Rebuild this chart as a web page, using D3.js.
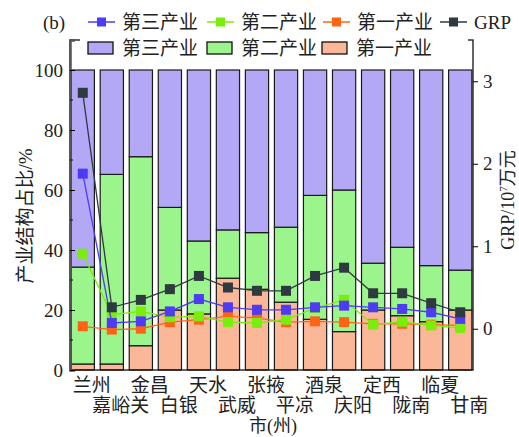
<!DOCTYPE html>
<html>
<head>
<meta charset="utf-8">
<script src="https://cdn.jsdelivr.net/npm/d3@7"></script>
<style>
  body { margin: 0; background: #fff; }
  text { font-family: "Liberation Serif", "Noto Sans CJK SC", serif; fill: #222; }
</style>
</head>
<body>
<div id="chart"></div>
<script>
// 1. DATA
const cities = ["兰州", "嘉峪关", "金昌", "白银", "天水", "武威", "张掖", "平凉", "酒泉", "庆阳", "定西", "陇南", "临夏", "甘南"];
const primaryPct   = [2, 2, 8.1, 20, 18.7, 30.6, 26.9, 22.6, 16.9, 12.8, 20, 18.1, 16.1, 20];
const secondaryPct = [32.3, 63.2, 63, 34.2, 24.3, 16.1, 18.9, 25, 41.3, 47.2, 15.6, 22.8, 18.7, 13.3];
const tertiaryPct  = primaryPct.map((p, i) => 100 - p - secondaryPct[i]);

const grpVal       = [2.86, 0.26, 0.35, 0.48, 0.64, 0.50, 0.46, 0.46, 0.64, 0.74, 0.43, 0.43, 0.31, 0.20];
const tertiaryVal  = [1.88, 0.07, 0.09, 0.21, 0.36, 0.26, 0.23, 0.23, 0.26, 0.28, 0.26, 0.24, 0.20, 0.12];
const secondaryVal = [0.91, 0.17, 0.21, 0.14, 0.15, 0.08, 0.07, 0.11, 0.25, 0.35, 0.05, 0.085, 0.04, 0.01];
const primaryVal   = [0.03, -0.01, 0.0, 0.08, 0.11, 0.15, 0.13, 0.08, 0.09, 0.08, 0.06, 0.06, 0.05, 0.04];

const leftTicks = [0, 20, 40, 60, 80, 100];
const leftMinor = [10, 30, 50, 70, 90];
const rightTicks = [0, 1, 2, 3];

// 2. SIZES
const W = 519, H = 437;
const plot = { left: 70, right: 473, top: 40, bottom: 370 };
const fontSize = 19;

const barColors = { tertiary: "#b3a8f6", secondary: "#9cf58c", primary: "#fbb898" };
const lineColors = { tertiary: "#4d3cf2", secondary: "#78ee0a", primary: "#ff6414", grp: "#2e3a40" };

const svg = d3.select("#chart")
    .append("svg")
    .attr("width", W)
    .attr("height", H);

// 3. SCALES
const x = d3.scaleBand()
    .domain(cities)
    .range([plot.left, plot.right])
    .paddingInner(0.2)
    .paddingOuter(0.04);

const yLeft = d3.scaleLinear().domain([0, 110]).range([plot.bottom, plot.top]);
const yRight = d3.scaleLinear().domain([-0.5, 3.5]).range([plot.bottom, plot.top]);

// 4. STACKED BARS
const table = cities.map((c, i) => ({
  city: c,
  primary: primaryPct[i],
  secondary: secondaryPct[i],
  tertiary: tertiaryPct[i]
}));

const stack = d3.stack().keys(["primary", "secondary", "tertiary"]);
const layers = stack(table);

svg.append("g")
    .selectAll("g")
    .data(layers)
    .enter()
    .append("g")
    .attr("fill", d => barColors[d.key])
    .selectAll("rect")
    .data(d => d)
    .enter()
    .append("rect")
    .attr("x", d => x(d.data.city))
    .attr("y", d => yLeft(d[1]))
    .attr("width", x.bandwidth())
    .attr("height", d => yLeft(d[0]) - yLeft(d[1]))
    .attr("stroke", "#1a1a1a")
    .attr("stroke-width", 1.2);

// 5. LINES
const series = [
  { key: "primary", values: primaryVal },
  { key: "secondary", values: secondaryVal },
  { key: "tertiary", values: tertiaryVal },
  { key: "grp", values: grpVal }
];

const line = d3.line()
    .x((d, i) => x(cities[i]) + x.bandwidth() / 2)
    .y(d => yRight(d));

series.forEach(s => {
  svg.append("path")
      .datum(s.values)
      .attr("fill", "none")
      .attr("stroke", lineColors[s.key])
      .attr("stroke-width", 1.3)
      .attr("d", line);

  svg.append("g")
      .selectAll("rect")
      .data(s.values)
      .enter()
      .append("rect")
      .attr("x", (d, i) => x(cities[i]) + x.bandwidth() / 2 - 5)
      .attr("y", d => yRight(d) - 5)
      .attr("width", 10)
      .attr("height", 10)
      .attr("fill", lineColors[s.key]);
});

// 6. FRAME AND AXES
svg.append("rect")
    .attr("x", plot.left)
    .attr("y", plot.top)
    .attr("width", plot.right - plot.left)
    .attr("height", plot.bottom - plot.top)
    .attr("fill", "none")
    .attr("stroke", "#111")
    .attr("stroke-width", 1.3);

// white strip hiding most of the top border
svg.append("rect")
    .attr("x", 80)
    .attr("y", plot.top - 2)
    .attr("width", 388)
    .attr("height", 5)
    .attr("fill", "#fff");

const leftAxis = svg.append("g")
    .attr("transform", `translate(${plot.left},0)`)
    .call(d3.axisLeft(yLeft).tickValues(leftTicks).tickSize(-5).tickPadding(7));
leftAxis.select(".domain").attr("stroke", "#555").attr("stroke-width", 2.5);
leftAxis.selectAll("text").style("font-size", fontSize + "px");

svg.append("g")
    .selectAll("line")
    .data(leftMinor)
    .enter()
    .append("line")
    .attr("x1", plot.left)
    .attr("x2", plot.left + 3)
    .attr("y1", d => yLeft(d))
    .attr("y2", d => yLeft(d))
    .attr("stroke", "#111");

const rightAxis = svg.append("g")
    .attr("transform", `translate(${plot.right},0)`)
    .call(d3.axisRight(yRight).tickValues(rightTicks).tickFormat(d3.format("d")).tickSize(5).tickPadding(5));
rightAxis.select(".domain").remove();
rightAxis.selectAll("text").style("font-size", fontSize + "px");

// x labels, staggered in two rows
svg.append("g")
    .selectAll("text")
    .data(cities)
    .enter()
    .append("text")
    .attr("x", d => x(d) + x.bandwidth() / 2 + 9)
    .attr("y", (d, i) => i % 2 === 0 ? 392 : 412)
    .attr("text-anchor", "middle")
    .style("font-size", fontSize + "px")
    .text(d => d);

svg.append("text")
    .attr("x", 273)
    .attr("y", 432)
    .attr("text-anchor", "middle")
    .style("font-size", "18px")
    .text("市(州)");

svg.append("text")
    .attr("transform", "rotate(-90)")
    .attr("x", -216)
    .attr("y", 32)
    .attr("text-anchor", "middle")
    .style("font-size", fontSize + "px")
    .text("产业结构占比/%");

const rLabel = svg.append("text")
    .attr("transform", "rotate(-90)")
    .attr("x", -200)
    .attr("y", 514)
    .attr("text-anchor", "middle")
    .style("font-size", "18px");
rLabel.append("tspan").text("GRP/10");
rLabel.append("tspan").attr("dy", -7).style("font-size", "11px").text("7");
rLabel.append("tspan").attr("dy", 7).text("万元");

// 7. LEGENDS
svg.append("text")
    .attr("x", 43)
    .attr("y", 29)
    .style("font-size", fontSize + "px")
    .text("(b)");

const lineLegend = [
  ["第三产业", "tertiary", 88],
  ["第二产业", "secondary", 207],
  ["第一产业", "primary", 323],
  ["GRP", "grp", 440]
];

const lg1 = svg.append("g")
    .selectAll("g")
    .data(lineLegend)
    .enter()
    .append("g")
    .attr("transform", d => `translate(${d[2]}, 22)`);

lg1.append("line")
    .attr("x1", 0)
    .attr("x2", 27)
    .attr("stroke", d => lineColors[d[1]])
    .attr("stroke-width", 1.5);

lg1.append("rect")
    .attr("x", 9)
    .attr("y", -4.5)
    .attr("width", 9)
    .attr("height", 9)
    .attr("fill", d => lineColors[d[1]]);

lg1.append("text")
    .attr("x", 34)
    .attr("dy", "0.35em")
    .style("font-size", fontSize + "px")
    .text(d => d[0]);

const barLegend = [
  ["第三产业", "tertiary", 88],
  ["第二产业", "secondary", 207],
  ["第一产业", "primary", 322]
];

const lg2 = svg.append("g")
    .selectAll("g")
    .data(barLegend)
    .enter()
    .append("g")
    .attr("transform", d => `translate(${d[2]}, 48)`);

lg2.append("rect")
    .attr("x", 0)
    .attr("y", -6)
    .attr("width", 25)
    .attr("height", 12)
    .attr("fill", d => barColors[d[1]])
    .attr("stroke", "#111")
    .attr("stroke-width", 1.3);

lg2.append("text")
    .attr("x", 34)
    .attr("dy", "0.35em")
    .style("font-size", fontSize + "px")
    .text(d => d[0]);
</script>
</body>
</html>
